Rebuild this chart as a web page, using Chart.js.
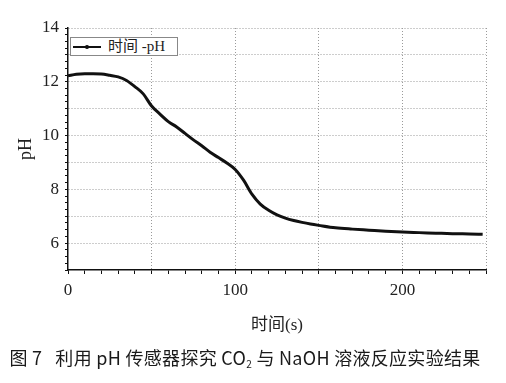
<!DOCTYPE html>
<html>
<head>
<meta charset="utf-8">
<script src="https://cdn.jsdelivr.net/npm/chart.js@4"></script>
<style>
  html, body { margin: 0; padding: 0; background: #fff; }
  #wrap { position: relative; width: 506px; height: 383px; overflow: hidden; }
  #c { position: absolute; left: 0; top: 0; }
  #legend { position: absolute; left: 70px; top: 37px; width: 106px; height: 17px;
    border: 1px solid #888; background: #fff; font-family: "Liberation Serif", "Noto Sans CJK SC", serif;
    font-size: 15px; line-height: 17px; color: #222; white-space: nowrap; }
  #legend .ln { position: absolute; left: 2px; top: 8px; width: 28px; height: 1.5px; background: #111; }
  #legend .dt { position: absolute; left: 14px; top: 7px; width: 3.5px; height: 3.5px; border-radius: 50%; background: #111; }
  #legend .tx { position: absolute; left: 37px; top: 0; }
  #caption { position: absolute; left: -8px; width: 506px; top: 344px; text-align: center;
    font-family: "Noto Sans CJK SC", "Noto Sans", sans-serif; font-size: 18px; letter-spacing: 0.3px; color: #1a1a1a; white-space: nowrap; }
  #caption sub { font-size: 10px; vertical-align: -3px; }
</style>
</head>
<body>
<div id="wrap">
  <canvas id="c" width="506" height="383"></canvas>
  <div id="legend"><span class="ln"></span><span class="dt"></span><span class="tx">时间 -pH</span></div>
  <div id="caption">图 7&nbsp;&nbsp; 利用 pH 传感器探究 CO<sub>2</sub> 与 NaOH 溶液反应实验结果</div>
</div>
<script>
// Data
const timeSeconds = [0, 5, 10, 15, 20, 25, 30, 35, 40, 45, 50, 55, 60, 65, 70, 75, 80, 85, 90, 95,
  100, 105, 110, 115, 120, 125, 130, 135, 140, 145, 150, 160, 170, 180, 190, 200, 210, 220, 230, 240, 248];
const phValues = [12.22, 12.28, 12.30, 12.30, 12.29, 12.24, 12.18, 12.05, 11.82, 11.55, 11.10, 10.80, 10.52, 10.32, 10.08, 9.84, 9.62, 9.38, 9.18, 8.98,
  8.74, 8.34, 7.82, 7.45, 7.22, 7.05, 6.93, 6.84, 6.77, 6.71, 6.66, 6.57, 6.52, 6.48, 6.44, 6.41, 6.39, 6.37, 6.35, 6.34, 6.33];
const xTickLabels = [0, 100, 200];
const yTickLabels = [6, 8, 10, 12, 14];
const seriesLabel = '时间 -pH';
const xTitle = '时间(s)';
const yTitle = 'pH';

const serif = '"Liberation Serif", "Noto Sans CJK SC", serif';

new Chart(document.getElementById('c'), {
  type: 'line',
  data: {
    datasets: [{
      label: seriesLabel,
      data: timeSeconds.map((t, i) => ({ x: t, y: phValues[i] })),
      borderColor: '#111',
      borderWidth: 3,
      pointRadius: 0,
      cubicInterpolationMode: 'monotone',
      fill: false
    }]
  },
  options: {
    responsive: false,
    animation: false,
    devicePixelRatio: 1,
    layout: { padding: { top: 28, right: 20, bottom: 43, left: 0 } },
    plugins: { legend: { display: false }, tooltip: { enabled: false } },
    scales: {
      x: {
        type: 'linear',
        min: 0, max: 250,
        afterFit: (s) => { s.height = 70; },
        ticks: {
          stepSize: 10, autoSkip: false, maxRotation: 0, padding: 6,
          color: '#222', font: { family: serif, size: 17 },
          callback: (v) => xTickLabels.includes(v) ? String(v) : ''
        },
        grid: {
          color: (ctx) => (ctx.tick && ctx.tick.value % 50 === 0 && ctx.tick.value !== 0) ? '#9a9a9a' : 'rgba(0,0,0,0)',
          lineWidth: 1,
          tickColor: '#111',
          tickLength: 4,
          tickWidth: 1
        },
        border: { display: true, color: '#111', width: 1.5, dash: [1, 2] },
        title: { display: true, text: xTitle, color: '#222', font: { family: serif, size: 17 }, padding: { top: 11 } }
      },
      y: {
        min: 5, max: 14,
        afterFit: (s) => { s.width = 68; },
        ticks: {
          stepSize: 0.25, autoSkip: false, padding: 6,
          color: '#222', font: { family: serif, size: 17 },
          callback: (v) => yTickLabels.includes(v) ? String(v) : ''
        },
        grid: {
          color: (ctx) => (ctx.tick && Number.isInteger(ctx.tick.value) && ctx.tick.value !== 5) ? '#9a9a9a' : 'rgba(0,0,0,0)',
          lineWidth: 1,
          tickColor: '#111',
          tickLength: 3,
          tickWidth: 1
        },
        border: { display: true, color: '#111', width: 1.5, dash: [1, 2] },
        title: { display: true, text: yTitle, color: '#222', font: { family: serif, size: 18 }, padding: { top: 15, bottom: 0 } }
      }
    }
  }
});
</script>
</body>
</html>
